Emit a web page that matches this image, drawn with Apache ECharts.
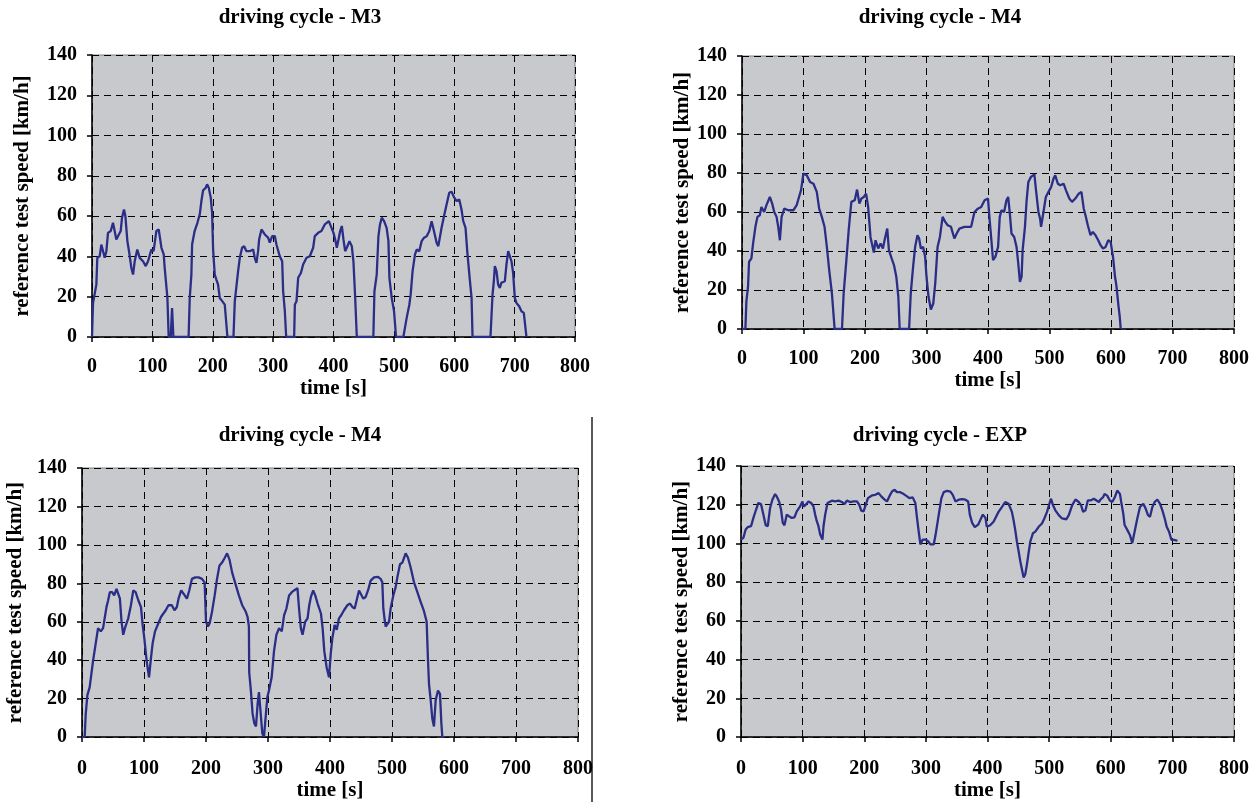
<!DOCTYPE html>
<html>
<head>
<meta charset="utf-8">
<script src="https://cdn.jsdelivr.net/npm/echarts@6/dist/echarts.min.js"></script>
<style>
html,body{margin:0;padding:0;background:#fff;}
#chart{width:1257px;height:802px;}
</style>
</head>
<body>
<div id="chart"></div>
<script>
// ---------- data ----------
const titles = ['driving cycle - M3', 'driving cycle - M4', 'driving cycle - M4', 'driving cycle - EXP'];
const xTicks = [0, 100, 200, 300, 400, 500, 600, 700, 800];
const yTicks = [0, 20, 40, 60, 80, 100, 120, 140];

const m3Time = [0,1.7,7.2,8.8,12.7,15.5,18.2,21,23.8,26.5,31,34.8,37.6,40.3,43,47.5,49.7,53,55.3,58.6,61.3,65.2,68,70.7,75,79,84.5,89,92.8,98.3,102,106.6,110.5,115,118.8,120.4,124.9,127,130.4,132.6,134.8,160,161.9,164.6,165.8,170,174.6,178.5,181.2,184,188.4,190.6,193.4,196.7,198.9,200.6,203.3,206,208.8,211.6,216,219.9,222.7,224.3,234.3,236.5,239.2,242,244.8,248.6,252,255.8,261.3,266.9,269.6,272.4,275.1,276.8,280.7,286.2,291.7,294.5,298.4,302.8,305.5,311,315,316.6,319.4,321.6,334.8,336,338.7,341.5,346,349.7,355.3,360.8,366.3,369,374.6,380,385.6,392.3,396.7,
  400,402.8,405.5,408.3,411,413.8,416.5,419.3,422,426.4,430.3,433,435.8,438.6,466,467.8,471.6,474.4,477,480,483.8,488,491,492.6,496.4,500.3,503.6,515.7,521.2,525.6,527.8,531,535,537.8,542,546,550,554.3,558.7,562.5,566.4,570.8,573.6,579,583,587.3,591.7,595.6,600,603.9,608.3,612,614.9,618.7,621.5,626,628.7,630.3,660,663.4,665.6,667.2,670,672.7,675.5,678,681,683.8,686.5,689.3,692,694.8,697.5,700.3,703,707.5,711.3,715.2,718.5,719.6];
const m3Speed = [0,16.9,26,39.3,40.1,45.9,45.1,39.3,42.6,51.7,52.6,56.7,57.5,48.4,50,52.6,59.2,63.3,60,47.6,42.6,34.3,31,37.6,43.4,39.3,37.6,35.2,37.6,43.4,42.6,52.6,53.4,44.3,41,34.3,19.4,0,0,14.4,0,0,19.4,31,45.9,52.6,56.7,60.9,67.5,72.8,74.1,75.8,74.1,69.2,61.7,43.4,31,28.5,26,19.4,17.7,16.1,15.3,0,0,17.7,18.6,32.7,39.3,44.3,45.1,42.6,42.6,43.4,39.3,36.8,42.6,48.4,53.4,50.9,49.3,46.8,50.1,50.1,45.9,40.1,37.6,22.7,12.8,0,0,16.1,17.7,29.4,31.8,36,39.3,40.1,44.3,50.1,51.7,52.6,55.9,57.5,54.2,
  51.7,48.4,44.3,48.4,52.6,55.1,48.4,42.6,44.3,47.6,45.1,37.6,20.2,0,0,22.7,31,50,55.9,59.2,57.5,54.2,47.6,29.4,19.4,12.8,0,0,9.5,16,21,32.7,41,43.4,42.6,47.6,49.3,50,52.6,57.5,52.6,46.8,45.1,54.2,60,65.8,71.6,72.1,69.2,67.5,68.3,63.3,57.5,54.2,42.6,27.7,19.4,0,0,21,27.7,35.2,32.7,26,24.4,26.9,26,27.7,36,42.6,41.8,37.6,31.8,19.4,16.9,15.3,12.8,12,11.1,0];

const m4aTime = [0,5.5,7.1,9.8,11.5,15.3,18,21.8,25.1,28.9,31.6,36,39.8,45.3,49.1,52.4,56.2,58.9,61.6,64.4,68.7,75.3,83.5,88.9,92.7,96,99.8,105.3,110.7,116.2,121.6,125.5,129.8,134.2,138,141.8,146.2,150.6,162.6,165.3,169.7,173.5,177.8,183.3,187.1,190.9,194.2,198,201.8,205.1,208.9,214.4,217.1,221.5,225.3,229.1,232.4,236.2,238.9,243.3,247.1,250.9,254.2,256.4,271.7,274.4,278.2,281.5,285.3,288,290.8,294.6,297.8,300,303.3,307.1,311,314.2,318,321.8,326.2,330.5,334.4,339.8,345.3,349.1,353.5,361.7,372.6,378,383.5,388.9,394.5,
  400,402.7,405.5,408.2,412,416.4,419.1,421.9,426.2,430,432.8,435.5,438.2,442.6,446.4,449.2,451.9,454.6,456.3,460.1,462.8,465.6,469.9,475.4,478.1,482,484.7,486.3,490.2,494,498.4,502.7,506.5,509.3,513.6,517.5,522.9,526.8,532.2,536.6,542,547.5,551.9,555.7,558.5,562.3,566.7,570.5,574.8,579.2,583,586.9,591.2,595.6,599.4,603.3,606.5,608.7,612,614.2,615.8];
const m4aSpeed = [0,0,14,21.7,34.5,36.2,43.8,52.4,57.5,58.3,62.6,60,63.5,67.7,64.3,60,57.5,52.4,45.5,57.5,61.7,60.9,60.9,63.5,67.7,71.2,79.7,78.8,75.4,74.5,70.3,61.7,57.5,52.4,42.1,30.2,18.3,0,0,18.3,35.3,50.7,65.2,66,71.5,64.3,66.9,67.7,69.4,62.6,47.2,39.2,45.5,41.3,43.8,41.3,46.4,51.5,40.4,36.2,32.8,26.8,16.5,0,0,18.3,31.9,42.1,48.1,46.4,41.3,42.1,37,26.8,16.5,10,13.1,23.4,42.1,47.2,57.5,54.9,53.2,52.4,46.4,49,51.5,52.4,52.4,60,61.7,62.6,66,
  66.9,55.8,45.5,35.3,37,42.1,57.5,60.9,60,66,67.7,59.2,49,47.2,42.1,33.6,24.2,26.8,40.4,52.4,66,75.4,78,79.3,71.1,60,56.6,52.4,60,67.7,70.3,72.8,77.1,78.8,74.5,73.7,74.5,71.1,66.9,65.2,66.9,69.4,70.3,61.7,58.3,53.2,48.1,49.8,48.1,45.5,43,41.3,42.1,45.5,44.7,37,26.8,22.5,12.3,6.3,0];

const m4bTime = [0,4.3,5.9,8.6,12.4,17.8,25.9,30.3,34,36.8,39.5,42.2,44.9,48.6,51.9,55.7,58.4,61.1,63.8,66.5,69.2,74.6,78.9,82.7,86.5,90.8,95.1,97.8,100.5,104.3,108.1,111.3,114,117.8,123.2,127.6,131.3,135.1,139.4,144.9,149.2,153,155.7,160,163.8,169.2,173,177.3,182.7,188.1,193.5,197.8,200,203.2,205.9,209.7,214,217.8,221.6,225.9,230.3,234,237.8,242.1,247.5,253,258.4,263.8,267,269.2,269.7,272.4,275.1,277.9,280.6,283.3,285.4,288.1,290.8,293.5,296.2,298.9,301.6,305.9,309.7,313.5,317.9,322.2,326,329.7,334,338.4,342.1,347.5,350.3,353,355.7,360,363.8,366.5,369.2,372.9,376.2,380,385.4,388.1,390.8,394.6,
  398.4,401.1,403.8,407.5,410.8,414.5,418.3,422.6,428,432.3,436,439.8,443,446.8,449.5,453.8,457.5,461.3,465.6,471,477.4,481.7,484.4,486,488.2,489.8,492.5,495.2,497.8,502.1,505.9,508.6,512.9,516.7,520.4,522,525.8,530.1,535.5,540.9,546.2,551.6,555.9,557,558.1,559.7,562.4,565,567.7,570.4,574.2,577.4,579.6,581.2,585];
const m4bSpeed = [0,0,11.4,21.7,26,39.6,56.7,55,56.7,57.5,67.7,71.2,75.4,75.4,73.7,77.1,77.1,72,60,53.2,56.7,61.8,68.6,76.3,75.4,71.2,67.7,58.4,51.5,39.6,31.1,41.3,49,55,59.2,62.6,64.3,66,68.6,68.6,66,67.7,72,76.3,74.6,72,76.3,82.3,83.1,83.1,82.3,80.5,60,57.5,59.2,65.2,73.7,82.3,89.1,90.8,93.3,95.6,92.5,85.7,79.7,73.7,68.6,65.5,62.6,57.5,33.6,24.2,12.3,7.2,5.5,17.4,23.4,24.2,2,0,0.3,20.8,24.2,31.1,44.7,53.2,56.7,55,63.5,66.9,73.7,75.4,76.3,77.5,66,56.7,53.2,60,61.8,68.6,72.9,76.3,73.7,69.5,64.3,56.7,44.7,36.2,
  31.1,43,51.5,58.4,55.8,61.8,63.5,66,68.6,69.5,67.7,66.9,71.2,76.3,76.3,72,72.9,76.3,81.4,83.1,83.4,82.3,80.5,66.9,60.9,57.5,57.5,60,66.9,73.7,78,83.1,89.9,90.8,94.2,95.6,93.3,88.2,80.5,75.4,70.3,65.5,60,49.8,39.6,27.6,19.1,9.7,5.5,19.1,24.2,22.5,7.2,0,0];

const expTime = [0,3.8,7.6,10.8,16.3,20.1,24.4,28.2,32.5,36.3,40.1,43.4,47.2,50.9,55.3,58,61.8,65,67.8,70.5,74.3,78,82.4,86.7,90.5,95.9,99.7,101.4,105.1,109.5,113.8,117.6,120.3,123,125.7,128.5,132.2,133.9,136.6,140.4,147.4,152.8,158.3,163.7,168,171.8,177.2,182.7,188.1,191.9,195.1,198.9,201.6,206,212.5,217.9,223.3,227.6,233.1,236.9,240.7,245,249.3,253.1,258.5,264,269.4,273.2,278.6,282.9,285.6,288.3,291.1,294.9,299.2,303.5,307.3,312.7,315.4,320.9,325.2,329,334.4,339.8,343.6,348,353.4,358.8,364.2,368.6,371.3,375.1,379.4,384.8,388.6,392.4,396.7,
  398.9,404.3,409.8,412.5,417.9,423.3,428.7,434.2,439.6,442.3,445,447.7,450.5,453.2,455.9,458.6,461.3,464,466.7,469.5,473.8,477.6,483,488.4,492.2,496.6,500.4,503.1,506.3,510.1,515.6,521,528,531.9,537.3,542.7,548.1,551.9,555.2,559,562.8,567.2,572.5,576.9,580.7,583.4,587.7,589.9,594.2,598.6,602.4,606.7,610.5,614.9,617,620.3,622.5,626.8,631.1,634.9,638.7,643.1,647.4,652.8,656.6,660.4,663.7,667.5,671.3,675.6,680,683.8,687.6,690.8,694.6,698.4,702.8,708.2];
const expSpeed = [102,102.9,107.2,108.4,108.9,113.2,117.4,120.9,120.3,114.9,109.4,108.9,118.3,122.6,125.5,124.3,121.7,117.4,110.6,109.4,114.9,114,113.2,113.5,116.6,119.1,121.7,119.1,120,121.7,120.9,119.1,114.9,111.5,108.9,104.6,102,108.9,114.9,120.9,122.1,121.7,122.1,121.4,120.3,122.1,121.4,121.7,121.7,120,116.9,116.6,119.1,123.4,124.8,125.1,126,124.3,122.6,121.7,124.3,126.8,127.7,126.5,126.5,125.5,124.3,123.4,123.8,120.9,113.2,106.3,99.5,102,102,101.2,99.5,99.5,103.8,114.9,123.4,126.5,127.2,126.8,125.1,121.7,122.6,122.9,122.6,121.7,114.9,110.6,108.4,109.7,112.3,114.9,113.2,
  108.6,109.4,111.2,112.9,116.3,118.8,121.4,120.5,116.3,112,107,101,96,90.8,86.6,82.4,84.1,89.2,95.1,101,105.3,106.1,108.6,110.3,112.9,116.3,120.5,123.1,119.7,117.1,114.6,112.9,112.5,114.6,119.7,122.7,121.4,119.7,116.3,117.1,122.2,122.2,123.1,122.2,121.4,122.7,123.9,125.6,124.7,122.2,121.4,123.9,127.3,125.6,121.4,115.4,109.5,107,104.4,100.2,106.1,112.9,118.8,120.5,118,114.6,113.8,118.8,121.4,122.7,120.5,117.1,112.9,108.6,106.1,101.9,101.9,101.4];

// ---------- layout ----------
const FONT = '"Liberation Serif", "Times New Roman", serif';
const panels = [
  {t: m3Time,  v: m3Speed,  grid: {left: 92,  top: 55,  right: 682, bottom: 465}, title: [300, 18], xm: 20, xg: 32, ym: 15, yg: 59},
  {t: m4aTime, v: m4aSpeed, grid: {left: 742, top: 56,  right: 23,  bottom: 473}, title: [940, 18], xm: 20, xg: 37, ym: 15, yg: 48},
  {t: m4bTime, v: m4bSpeed, grid: {left: 82,  top: 468, right: 679, bottom: 61},  title: [300, 436], xm: 22, xg: 36, ym: 15, yg: 56},
  {t: expTime, v: expSpeed, grid: {left: 741, top: 466, right: 23,  bottom: 61},  title: [940, 436], xm: 22, xg: 36, ym: 15, yg: 49}
];

const grids = [], xAxes = [], yAxes = [], series = [], graphics = [];
const splitStyle = {show: true, lineStyle: {color: '#000', type: [7, 5], width: 1}};
panels.forEach((p, i) => {
  grids.push(Object.assign({show: true, backgroundColor: '#c8c9cd', borderColor: '#808080', borderWidth: 1}, p.grid));
  xAxes.push({
    gridIndex: i, type: 'value', min: xTicks[0], max: xTicks[xTicks.length - 1], interval: 100,
    name: 'time [s]', nameLocation: 'middle', nameGap: p.xg,
    nameTextStyle: {fontFamily: FONT, fontWeight: 'bold', fontSize: 21, color: '#000'},
    axisLine: {show: true, onZero: false, lineStyle: {color: '#000', width: 1.5}},
    axisTick: {show: true, inside: false, length: 5, lineStyle: {color: '#000', width: 1.5}},
    axisLabel: {margin: p.xm, fontFamily: FONT, fontWeight: 'bold', fontSize: 20, color: '#000'},
    splitLine: splitStyle
  });
  yAxes.push({
    gridIndex: i, type: 'value', min: yTicks[0], max: yTicks[yTicks.length - 1], interval: 20,
    name: 'reference test speed [km/h]', nameLocation: 'middle', nameGap: p.yg, nameRotate: 90,
    nameTextStyle: {fontFamily: FONT, fontWeight: 'bold', fontSize: 21, color: '#000'},
    axisLine: {show: true, onZero: false, lineStyle: {color: '#000', width: 1.5}},
    axisTick: {show: true, inside: false, length: 5, lineStyle: {color: '#000', width: 1.5}},
    axisLabel: {margin: p.ym, fontFamily: FONT, fontWeight: 'bold', fontSize: 20, color: '#000'},
    splitLine: splitStyle
  });
  series.push({
    type: 'line', xAxisIndex: i, yAxisIndex: i, showSymbol: false, symbol: 'none',
    data: p.t.map((t, k) => [t, p.v[k]]),
    lineStyle: {color: '#2b2e86', width: 2.3}, animation: false
  });
  graphics.push({
    type: 'text', x: p.title[0], y: p.title[1],
    style: {text: titles[i], font: 'bold 21px ' + FONT, fill: '#000', align: 'center', verticalAlign: 'middle'}
  });
});
graphics.push({type: 'line', shape: {x1: 592, y1: 417, x2: 592, y2: 802}, style: {stroke: '#222', lineWidth: 1.5}});

const chart = echarts.init(document.getElementById('chart'), null, {renderer: 'canvas'});
chart.setOption({
  animation: false,
  grid: grids, xAxis: xAxes, yAxis: yAxes, series: series, graphic: graphics
});
</script>
</body>
</html>
